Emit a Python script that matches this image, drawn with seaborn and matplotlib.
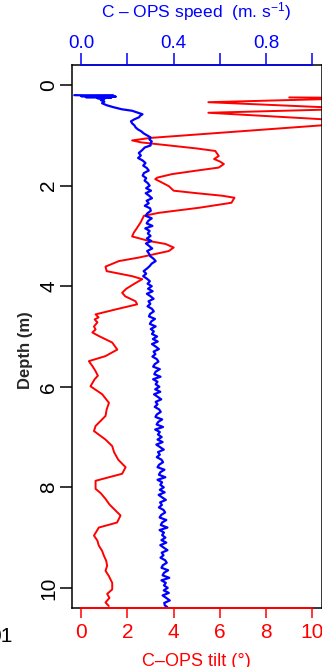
import matplotlib
matplotlib.use("Agg")
import matplotlib.pyplot as plt
import seaborn as sns

# C-OPS profile: tilt (red, bottom axis) and descent speed (blue, top axis)
TILT_DEPTH = [0.245, 0.255, 0.34, 0.47, 0.55, 0.72, 0.78, 1.05, 1.10, 1.14,
              1.20, 1.26, 1.31, 1.41, 1.47, 1.52, 1.57, 1.64, 1.70, 1.77,
              1.84, 1.87, 1.94, 2.01, 2.10, 2.15, 2.20, 2.24, 2.34, 2.44,
              2.54, 2.60, 2.73, 2.85, 2.93, 3.01, 3.10, 3.16, 3.23, 3.30,
              3.43, 3.50, 3.61, 3.70, 3.80, 3.86, 3.95, 4.05, 4.13, 4.20,
              4.30, 4.36, 4.46, 4.56, 4.62, 4.66, 4.72, 4.80, 4.86, 4.92,
              4.99, 5.12, 5.26, 5.39, 5.49, 5.60, 5.69, 5.78, 5.85, 5.99,
              6.15, 6.32, 6.45, 6.58, 6.78, 6.88, 7.05, 7.18, 7.30, 7.45,
              7.60, 7.73, 7.87, 8.03, 8.12, 8.23, 8.34, 8.46, 8.56, 8.70,
              8.80, 8.96, 9.06, 9.16, 9.26, 9.36, 9.46, 9.56, 9.66, 9.76,
              9.90, 10.03, 10.12, 10.20, 10.29, 10.36]
TILT = [9.0, 12.5, 5.5, 12.0, 5.5, 12.0, 11.0, 3.0, 2.2, 2.6,
        3.8, 5.0, 5.8, 5.95, 5.75, 6.0, 6.17, 5.95, 5.0, 3.93,
        3.29, 3.2, 3.5, 3.79, 4.0, 5.0, 6.1, 6.63, 6.5, 5.09,
        3.36, 2.71, 2.57, 2.4, 2.28, 2.2, 2.93, 3.65, 4.0, 3.79,
        2.49, 1.63, 1.05, 1.1, 2.2, 2.64, 2.3, 1.95, 1.77, 1.9,
        2.35, 2.42, 1.5, 0.62, 0.75, 0.58, 0.70, 0.55, 0.62, 0.48,
        0.76, 1.34, 1.56, 1.05, 0.33, 0.5, 0.62, 0.72, 0.58, 0.40,
        0.91, 1.2, 1.1, 1.05, 0.62, 0.55, 1.05, 1.34, 1.42, 1.6,
        1.92, 1.77, 0.62, 0.62, 0.85, 1.05, 1.22, 1.48, 1.70, 1.55,
        0.76, 0.55, 0.70, 0.76, 0.90, 0.98, 1.08, 1.12, 1.05, 1.19,
        1.34, 1.34, 1.12, 1.22, 1.05, 1.19]

SPEED_DEPTH = [0.20, 0.21, 0.22, 0.23, 0.24, 0.25, 0.26, 0.28, 0.30, 0.33,
               0.36, 0.40, 0.44, 0.48, 0.51, 0.55, 0.58, 0.61, 0.64, 0.68,
               0.72, 0.76, 0.80, 0.84, 0.88, 0.92, 0.96, 1.00, 1.04, 1.08,
               1.12, 1.16, 1.20, 1.24,
               1.30, 1.35, 1.40, 1.45, 1.50, 1.55, 1.60, 1.65, 1.70, 1.75,
               1.80, 1.85, 1.90, 1.95,
               2.00, 2.05, 2.10, 2.15, 2.20, 2.25, 2.30, 2.35, 2.40, 2.45,
               2.50, 2.55, 2.60, 2.65, 2.70, 2.75, 2.80, 2.85, 2.90, 2.95,
               3.00, 3.05, 3.10, 3.15, 3.20, 3.25, 3.30, 3.35, 3.40, 3.45,
               3.50, 3.55, 3.60, 3.65, 3.70, 3.75, 3.80, 3.85, 3.90, 3.95,
               4.00, 4.05, 4.10, 4.15, 4.20, 4.25, 4.30, 4.35, 4.40, 4.45,
               4.50, 4.55, 4.60, 4.65, 4.70, 4.75, 4.80, 4.85, 4.90, 4.95,
               5.00, 5.05, 5.10, 5.15, 5.20, 5.25, 5.30, 5.35, 5.40, 5.45,
               5.50, 5.55, 5.60, 5.65, 5.70, 5.75, 5.80, 5.85, 5.90, 5.95,
               6.00, 6.05, 6.10, 6.15, 6.20, 6.25, 6.30, 6.35, 6.40, 6.45,
               6.50, 6.55, 6.60, 6.65, 6.70, 6.75, 6.80, 6.85, 6.90, 6.95,
               7.00, 7.05, 7.10, 7.15, 7.20, 7.25, 7.30, 7.35, 7.40, 7.45,
               7.50, 7.55, 7.60, 7.65, 7.70, 7.75, 7.80, 7.85, 7.90, 7.95,
               8.00, 8.05, 8.10, 8.15, 8.20, 8.25, 8.30, 8.35, 8.40, 8.45,
               8.50, 8.55, 8.60, 8.65, 8.70, 8.75, 8.80, 8.85, 8.90, 8.95,
               9.00, 9.05, 9.10, 9.15, 9.20, 9.25, 9.30, 9.35, 9.40, 9.45,
               9.50, 9.55, 9.60, 9.65, 9.70, 9.75, 9.80, 9.85, 9.90, 9.95,
               10.00, 10.05, 10.10, 10.15, 10.20, 10.25, 10.30, 10.35, 10.38]
SPEED = [-0.03, 0.14, 0.00, 0.15, 0.02, 0.13, 0.07, 0.10, 0.085, 0.10,
         0.09, 0.11, 0.14, 0.175, 0.22, 0.245, 0.265, 0.255, 0.25, 0.23,
         0.215, 0.22, 0.23, 0.235, 0.245, 0.26, 0.27, 0.285, 0.30, 0.295,
         0.305, 0.30, 0.30, 0.275,
         0.262, 0.249, 0.258, 0.246, 0.266, 0.278, 0.268, 0.284, 0.292, 0.271,
         0.266, 0.281, 0.274, 0.288,
         0.296, 0.281, 0.302, 0.279, 0.294, 0.306, 0.283, 0.292, 0.275, 0.298,
         0.301, 0.286, 0.279, 0.305, 0.290, 0.283, 0.308, 0.277, 0.296, 0.288,
         0.300, 0.284, 0.303, 0.280, 0.294, 0.307, 0.285, 0.293, 0.298, 0.312,
         0.322, 0.305, 0.296, 0.284, 0.270, 0.281, 0.268, 0.284, 0.297, 0.287,
         0.305, 0.289, 0.309, 0.284, 0.300, 0.313, 0.291, 0.299, 0.287, 0.306,
         0.314, 0.298, 0.293, 0.319, 0.303, 0.297, 0.322, 0.301, 0.314, 0.306,
         0.328, 0.310, 0.331, 0.306, 0.322, 0.336, 0.313, 0.321, 0.308, 0.327,
         0.334, 0.318, 0.311, 0.340, 0.322, 0.316, 0.343, 0.311, 0.330, 0.322,
         0.338, 0.320, 0.342, 0.315, 0.331, 0.346, 0.322, 0.330, 0.318, 0.337,
         0.344, 0.327, 0.321, 0.350, 0.333, 0.326, 0.354, 0.320, 0.340, 0.332,
         0.348, 0.330, 0.352, 0.325, 0.341, 0.357, 0.332, 0.340, 0.327, 0.347,
         0.354, 0.337, 0.330, 0.360, 0.342, 0.336, 0.364, 0.330, 0.350, 0.342,
         0.357, 0.340, 0.361, 0.335, 0.350, 0.366, 0.341, 0.349, 0.336, 0.356,
         0.363, 0.346, 0.339, 0.368, 0.350, 0.344, 0.373, 0.339, 0.358, 0.350,
         0.364, 0.347, 0.368, 0.342, 0.357, 0.373, 0.348, 0.356, 0.343, 0.363,
         0.370, 0.353, 0.347, 0.376, 0.358, 0.352, 0.381, 0.347, 0.366, 0.358,
         0.374, 0.357, 0.379, 0.352, 0.368, 0.383, 0.359, 0.362, 0.372]

TILT_TICKS = [0, 2, 4, 6, 8, 10]
SPEED_TICKS = [0.0, 0.2, 0.4, 0.6, 0.8, 1.0]
SPEED_LABELS = ["0.0", "", "0.4", "", "0.8", ""]
DEPTH_TICKS = [0, 2, 4, 6, 8, 10]

W, H = 322, 667

sns.set_theme(style="white")
plt.rcParams["font.family"] = ["Liberation Sans", "DejaVu Sans"]
plt.rcParams["mathtext.fontset"] = "custom"
plt.rcParams["mathtext.rm"] = "Liberation Sans"
plt.rcParams["mathtext.it"] = "Liberation Sans"

fig = plt.figure(figsize=(W / 100, H / 100), dpi=100)
ax = fig.add_axes([72 / W, 59 / H, 249.6 / W, 543 / H])

# ── Tilt (bottom axis) ────────────────────────────────────────────────────
sns.lineplot(x=TILT, y=TILT_DEPTH, sort=False, estimator=None,
             color="red", lw=1.4, ax=ax)
ax.set_xlim(-0.4, 10.4)
ax.set_ylim(10.4, -0.4)
ax.set_xticks(TILT_TICKS)
ax.set_yticks(DEPTH_TICKS)
ax.tick_params(axis="x", colors="red", direction="out", length=7.5, width=1.1,
               labelsize=15, pad=3, bottom=True)
ax.tick_params(axis="y", colors="black", direction="out", length=9, width=1.1,
               labelsize=15, pad=1, left=True, labelrotation=90)
for lbl in ax.get_yticklabels():
    lbl.set_va("center")
for side in ax.spines.values():
    side.set_color("black")
    side.set_linewidth(1.1)
ax.set_xlabel("")
ax.set_ylabel("Depth (m)", fontsize=12, fontweight="bold")
ax.yaxis.set_label_coords(-0.156, 0.475)

# ── Speed (top axis) ──────────────────────────────────────────────────────
ax2 = ax.twiny()
sns.lineplot(x=SPEED, y=SPEED_DEPTH, sort=False, estimator=None,
             color="blue", lw=1.6, ax=ax2)
ax2.set_xlim(-0.04, 1.04)
ax2.set_ylim(10.4, -0.4)
ax2.set_xticks(SPEED_TICKS, SPEED_LABELS)
ax2.tick_params(axis="x", colors="blue", direction="out", length=8.5, width=1.1,
                labelsize=13.5, pad=1, top=True, bottom=False)
ax2.set_xlabel("")
ax2.set_ylabel("")
for name in ["left", "right"]:
    ax2.spines[name].set_visible(False)
ax2.spines["top"].set_color("blue")
ax2.spines["top"].set_bounds(0, 1)
ax2.spines["top"].set_linewidth(1.1)
ax2.spines["bottom"].set_color("red")
ax2.spines["bottom"].set_bounds(0, 1)
ax2.spines["bottom"].set_linewidth(1.4)

fig.text(196.5 / W, 1 - 17.3 / H, "C \u2013 OPS speed  (m. s$^{-1}$)",
         color="blue", fontsize=12.5, ha="center", va="baseline")
fig.text(196.5 / W, 1 - 666 / H, "C\u2013OPS tilt (°)",
         color="red", fontsize=13, ha="center", va="baseline")
fig.text(12 / W, 1 - 642 / H, "01", color="black", fontsize=15,
         ha="right", va="baseline")

fig.savefig("out.png", dpi=100)
